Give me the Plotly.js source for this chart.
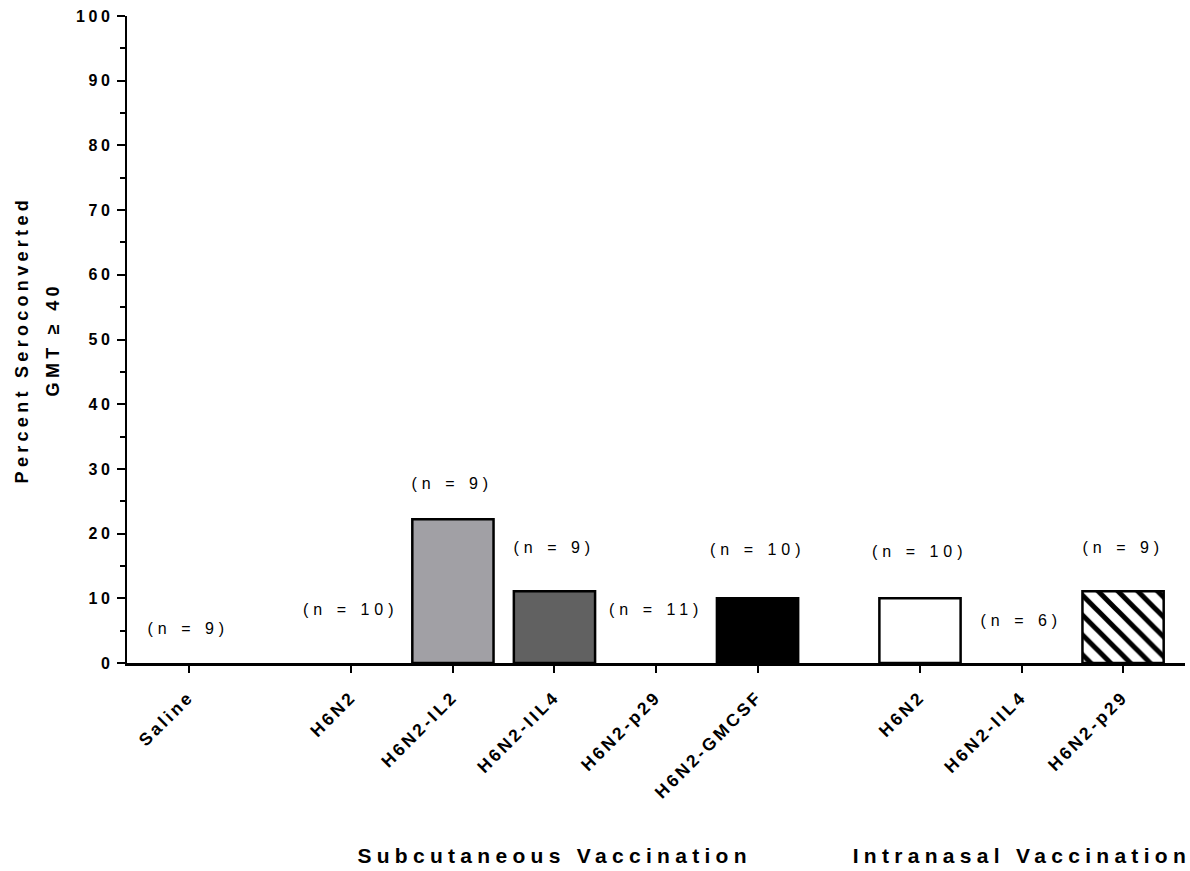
<!DOCTYPE html>
<html>
<head>
<meta charset="utf-8">
<script src="https://cdn.plot.ly/plotly-3.0.1.min.js"></script>
<style>
  html, body { margin: 0; padding: 0; background: #fff; }
  #chart { width: 1190px; height: 871px; }
  .xtick text { letter-spacing: 3px; }
  .ytick text { letter-spacing: 3.5px; }
</style>
</head>
<body>
<div id="chart"></div>
<script>
// Control group
const controlLabels = ["Saline"];
const controlValues = [0];
const controlN = [9];

// Subcutaneous vaccination groups
const scLabels = ["H6N2", "H6N2-IL2", "H6N2-IIL4", "H6N2-p29", "H6N2-GMCSF"];
const scValues = [0, 22.2, 11.1, 0, 10];
const scN = [10, 9, 9, 11, 10];

// Intranasal vaccination groups
const inLabels = ["H6N2", "H6N2-IIL4", "H6N2-p29"];
const inValues = [10, 0, 11.1];
const inN = [10, 6, 9];

// Heights (in % units) at which each "(n = …)" label sits
const nLabelHeights = [5.3, 8.3, 27.8, 17.8, 8.3, 17.5, 17.2, 6.6, 17.8];

const groupTitles = ["Subcutaneous Vaccination", "Intranasal Vaccination"];
const yTitleLines = ["Percent Seroconverted", "GMT ≥ 40"];

// Bar styling per bar, in drawing order
const barFills = ["#ffffff", "#ffffff", "#a1a0a5", "#616161", "#ffffff", "#000000", "#ffffff", "#ffffff", "#ffffff"];
const barHatched = [false, false, false, false, false, false, false, false, true];

// Build x positions: unit spacing within a group, extra gap between groups
const groupGap = 0.6;
const groups = [
  {labels: controlLabels, values: controlValues, n: controlN},
  {labels: scLabels, values: scValues, n: scN},
  {labels: inLabels, values: inValues, n: inN}
];
const xs = [], ys = [], ticks = [], ns = [], groupSpans = [];
let pos = 0;
groups.forEach((g, gi) => {
  if (gi > 0) pos += groupGap;
  const start = pos;
  g.labels.forEach((lab, i) => {
    xs.push(pos); ys.push(g.values[i]); ticks.push(lab); ns.push(g.n[i]);
    pos += 1;
  });
  groupSpans.push([start, pos - 1]);
});

const font = "Liberation Sans, Arial, Helvetica, sans-serif";

// Solid bars and hatched bars go in separate traces
function pick(arr, want) { return arr.filter((_, i) => barHatched[i] === want); }
const outline = ys.map(v => v > 0 ? 2.5 : 0);

const solidTrace = {
  type: "bar",
  x: pick(xs, false),
  y: pick(ys, false),
  width: 0.8,
  marker: {color: pick(barFills, false), line: {color: "#000", width: pick(outline, false)}},
  hoverinfo: "x+y"
};
const hatchTrace = {
  type: "bar",
  x: pick(xs, true),
  y: pick(ys, true),
  width: 0.8,
  marker: {
    color: "#ffffff",
    line: {color: "#000", width: pick(outline, true)},
    pattern: {shape: "\\", fgcolor: "#000", bgcolor: "#fff", size: 14, solidity: 0.36}
  },
  hoverinfo: "x+y"
};

const annotations = [];
const letterSpacings = [];
xs.forEach((x, i) => {
  annotations.push({
    x: x, y: nLabelHeights[i], xref: "x", yref: "y",
    text: "(n = " + ns[i] + ")", showarrow: false,
    font: {family: font, size: 16, color: "#000"},
    xanchor: "center", yanchor: "middle"
  });
  letterSpacings.push(5);
});
// Group captions under the subcutaneous and intranasal sets
[1, 2].forEach((gi, k) => {
  const span = groupSpans[gi];
  annotations.push({
    x: (span[0] + span[1]) / 2, y: -0.298, xref: "x", yref: "paper",
    text: groupTitles[k], showarrow: false,
    font: {family: font, size: 21, color: "#000", weight: "bold"},
    xanchor: "center", yanchor: "middle"
  });
  letterSpacings.push(5.3);
});
// Y axis title, two rotated lines
const yTitleX = [-0.0995, -0.0702];
yTitleLines.forEach((line, k) => {
  annotations.push({
    x: yTitleX[k], y: 0.5, xref: "paper", yref: "paper",
    text: line, showarrow: false, textangle: -90,
    font: {family: font, size: 18, color: "#000", weight: "bold"},
    xanchor: "center", yanchor: "middle"
  });
  letterSpacings.push(4.3);
});

const layout = {
  width: 1190,
  height: 871,
  margin: {l: 127, r: 5, t: 16, b: 208},
  paper_bgcolor: "#fff",
  plot_bgcolor: "#fff",
  showlegend: false,
  barmode: "overlay",
  font: {family: font, color: "#000"},
  xaxis: {
    range: [-0.61, xs[xs.length - 1] + 0.61],
    tickvals: xs,
    ticktext: ticks,
    tickangle: -45,
    ticks: "outside", ticklen: 7, tickwidth: 2, tickcolor: "#000",
    ticklabelstandoff: 7,
    showline: true, linewidth: 2.5, linecolor: "#000",
    showgrid: false, zeroline: false,
    tickfont: {family: font, size: 17.5, color: "#000", weight: "bold"}
  },
  yaxis: {
    range: [0, 100],
    dtick: 10,
    ticks: "outside", ticklen: 8, tickwidth: 2, tickcolor: "#000",
    minor: {dtick: 5, ticks: "outside", ticklen: 5, tickwidth: 2, tickcolor: "#000"},
    showline: true, linewidth: 2.5, linecolor: "#000",
    showgrid: false, zeroline: false,
    tickfont: {family: font, size: 16, color: "#000", weight: "bold"}
  },
  annotations: annotations
};

Plotly.newPlot("chart", [solidTrace, hatchTrace], layout, {displayModeBar: false, staticPlot: true}).then(gd => {
  gd.querySelectorAll("g.annotation").forEach(g => {
    const idx = +g.getAttribute("data-index");
    const t = g.querySelector("text.annotation-text");
    if (t && letterSpacings[idx] != null) t.style.letterSpacing = letterSpacings[idx] + "px";
  });
});
</script>
</body>
</html>
